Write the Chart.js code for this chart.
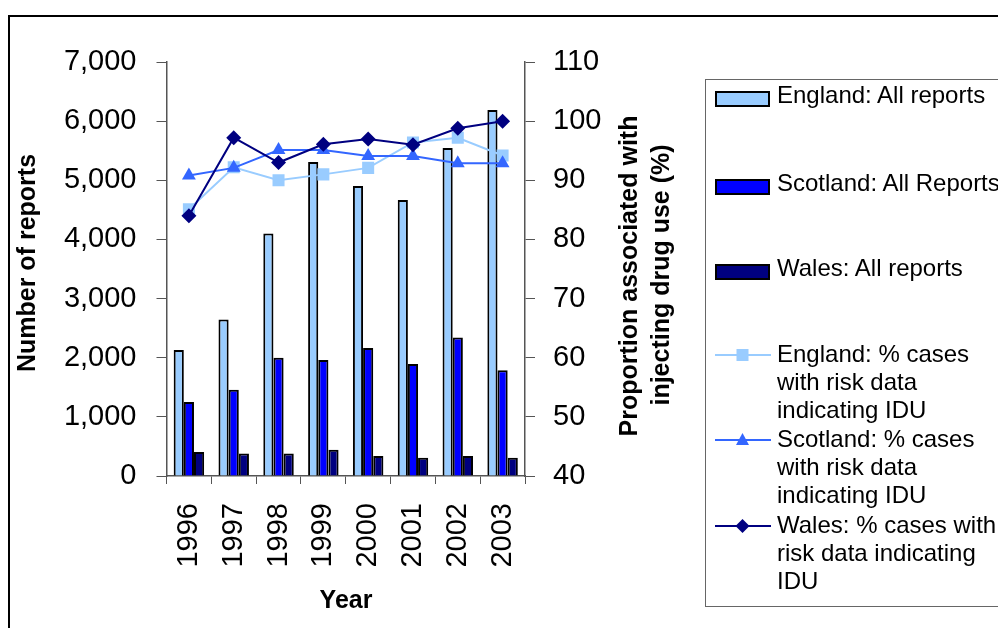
<!DOCTYPE html>
<html>
<head>
<meta charset="utf-8">
<script src="https://cdn.jsdelivr.net/npm/chart.js@4/dist/chart.umd.min.js"></script>
<style>
    html, body { margin: 0; padding: 0; background: #fff; overflow: hidden; }
    #wrap { position: relative; width: 998px; height: 628px; overflow: hidden; font-family: "Liberation Sans", Arial, sans-serif; }
    #chartBox { position: absolute; left: 0; top: 0; width: 998px; height: 628px; }
    #frame { position: absolute; left: 8px; top: 15px; width: 1200px; height: 800px; border: 2px solid #000; box-sizing: border-box; pointer-events: none; }
    #legend { position: absolute; left: 705px; top: 79px; width: 500px; height: 528px; border: 1px solid #666; box-sizing: border-box; }
    .sw { position: absolute; left: 9px; width: 55px; height: 16px; border: 2px solid #000; box-sizing: border-box; }
    .lbl { position: absolute; left: 71px; font-size: 24px; line-height: 28px; color: #000; white-space: nowrap; }
    .ln { position: absolute; left: 9px; }
</style>
</head>
<body>
<div id="wrap">
    <div id="chartBox"><canvas id="chart"></canvas></div>
    <div id="frame"></div>
    <div id="legend"></div>
</div>
<script>
// Data
const years = ['1996', '1997', '1998', '1999', '2000', '2001', '2002', '2003'];
const englandReports = [2130, 2645, 4100, 5310, 4905, 4665, 5545, 6190];
const scotlandReports = [1250, 1460, 2000, 1960, 2165, 1895, 2340, 1790];
const walesReports = [405, 380, 380, 445, 340, 310, 340, 310];
const englandIdu = [85.1, 92.2, 90, 91, 92.1, 96.4, 97.2, 94.2];
const scotlandIdu = [90.8, 92.1, 95.1, 95.1, 94.1, 94.1, 92.9, 92.9];
const walesIdu = [84, 97.2, 93, 96.1, 97, 96, 98.8, 100];

const reportTicks = [0, 1000, 2000, 3000, 4000, 5000, 6000, 7000];
const percentTicks = [40, 50, 60, 70, 80, 90, 100, 110];

const FONT = '"Liberation Sans", Arial, sans-serif';
const AXIS_GREY = '#555';

// Axis titles drawn by hand so the right title reads bottom-to-top like the original
const axisTitles = {
    id: 'axisTitles',
    afterDraw(chart) {
        const ctx = chart.ctx;
        ctx.save();
        ctx.fillStyle = '#000';
        ctx.font = 'bold 25px ' + FONT;
        ctx.textAlign = 'center';
        ctx.textBaseline = 'middle';

        ctx.save();
        ctx.translate(28, 263);
        ctx.rotate(-Math.PI / 2);
        ctx.fillText('Number of reports', 0, 0);
        ctx.restore();

        ctx.save();
        ctx.translate(630, 276);
        ctx.rotate(-Math.PI / 2);
        ctx.fillText('Proportion associated with', 0, 0);
        ctx.restore();

        ctx.save();
        ctx.translate(662, 275);
        ctx.rotate(-Math.PI / 2);
        ctx.fillText('injecting drug use (%)', 0, 0);
        ctx.restore();

        ctx.fillText('Year', 346, 601);
        ctx.restore();
    }
};

const ctx = document.getElementById('chart').getContext('2d');
new Chart(ctx, {
    data: {
        labels: years,
        datasets: [
            {
                type: 'line', label: 'England: % cases with risk data indicating IDU',
                data: englandIdu, yAxisID: 'y1', order: 3,
                borderColor: '#99CCFF', backgroundColor: '#99CCFF', borderWidth: 2,
                pointStyle: 'rect', pointRadius: 8.5, pointBorderWidth: 0
            },
            {
                type: 'line', label: 'Scotland: % cases with risk data indicating IDU',
                data: scotlandIdu, yAxisID: 'y1', order: 2,
                borderColor: '#3366FF', backgroundColor: '#3366FF', borderWidth: 2,
                pointStyle: 'triangle', pointRadius: 8, pointBorderWidth: 0
            },
            {
                type: 'line', label: 'Wales: % cases with risk data indicating IDU',
                data: walesIdu, yAxisID: 'y1', order: 1,
                borderColor: '#000080', backgroundColor: '#000080', borderWidth: 2,
                pointStyle: 'rectRot', pointRadius: 7.5, pointBorderWidth: 0
            },
            {
                type: 'bar', label: 'England: All reports', data: englandReports, yAxisID: 'y', order: 4,
                backgroundColor: '#99CCFF', borderColor: '#000', borderWidth: 2,
                categoryPercentage: 0.68, barPercentage: 1.0
            },
            {
                type: 'bar', label: 'Scotland: All Reports', data: scotlandReports, yAxisID: 'y', order: 5,
                backgroundColor: '#0000FF', borderColor: '#000', borderWidth: 2,
                categoryPercentage: 0.68, barPercentage: 1.0
            },
            {
                type: 'bar', label: 'Wales: All reports', data: walesReports, yAxisID: 'y', order: 6,
                backgroundColor: '#000080', borderColor: '#000', borderWidth: 2,
                categoryPercentage: 0.68, barPercentage: 1.0
            }
        ]
    },
    options: {
        responsive: true,
        maintainAspectRatio: false,
        animation: false,
        layout: { padding: { left: 0, top: 62, right: 373, bottom: 52 } },
        plugins: {
            legend: { display: false },
            tooltip: { enabled: false }
        },
        scales: {
            x: {
                offset: true,
                grid: { offset: true, drawOnChartArea: false, tickLength: 8, color: AXIS_GREY },
                border: { color: AXIS_GREY, width: 1.5 },
                ticks: {
                    color: '#000', font: { family: FONT, size: 29 },
                    maxRotation: 90, minRotation: 90, padding: 19, autoSkip: false
                },
                afterFit(scale) { scale.height = 100; }
            },
            y: {
                position: 'left',
                min: 0, max: 7000,
                afterBuildTicks(scale) { scale.ticks = reportTicks.map(v => ({ value: v })); },
                grid: { drawOnChartArea: false, tickLength: 10, color: AXIS_GREY },
                border: { color: AXIS_GREY, width: 1.5 },
                ticks: {
                    color: '#000', font: { family: FONT, size: 29 }, padding: 20,
                    callback: v => v.toLocaleString('en-US')
                },
                afterFit(scale) { scale.width = 166.5; }
            },
            y1: {
                position: 'right',
                min: 40, max: 110,
                afterBuildTicks(scale) { scale.ticks = percentTicks.map(v => ({ value: v })); },
                grid: { drawOnChartArea: false, tickLength: 10, color: AXIS_GREY },
                border: { color: AXIS_GREY, width: 1.5 },
                ticks: { color: '#000', font: { family: FONT, size: 29 }, padding: 18 },
                afterFit(scale) { scale.width = 100; }
            }
        }
    },
    plugins: [axisTitles]
});

// Legend built as HTML to keep the wrapped labels of the original
function markerSvg(shape, color) {
    let mark = '';
    if (shape === 'rect') mark = `<rect x="21.5" y="4" width="12" height="12" fill="${color}"/>`;
    if (shape === 'triangle') mark = `<polygon points="27.5,3 34,15 21,15" fill="${color}"/>`;
    if (shape === 'diamond') mark = `<polygon points="27.5,3 34.5,10 27.5,17 20.5,10" fill="${color}"/>`;
    return `<svg width="56" height="20" viewBox="0 0 56 20"><line x1="0" y1="10" x2="56" y2="10" stroke="${color}" stroke-width="2"/>${mark}</svg>`;
}

const legendItems = [
    { kind: 'bar', color: '#99CCFF', y: 95, text: 'England: All reports' },
    { kind: 'bar', color: '#0000FF', y: 183, text: 'Scotland: All Reports' },
    { kind: 'bar', color: '#000080', y: 268, text: 'Wales: All reports' },
    { kind: 'rect', color: '#99CCFF', y: 354, text: 'England: % cases<br>with risk data<br>indicating IDU' },
    { kind: 'triangle', color: '#3366FF', y: 439, text: 'Scotland: % cases<br>with risk data<br>indicating IDU' },
    { kind: 'diamond', color: '#000080', y: 525, text: 'Wales: % cases with<br>risk data indicating<br>IDU' }
];

const legend = document.getElementById('legend');
legendItems.forEach(item => {
    const top = item.y - 79;
    if (item.kind === 'bar') {
        const sw = document.createElement('div');
        sw.className = 'sw';
        sw.style.top = (top - 5) + 'px';
        sw.style.background = item.color;
        legend.appendChild(sw);
    } else {
        const ln = document.createElement('div');
        ln.className = 'ln';
        ln.style.top = (top - 10) + 'px';
        ln.innerHTML = markerSvg(item.kind, item.color);
        legend.appendChild(ln);
    }
    const lbl = document.createElement('div');
    lbl.className = 'lbl';
    lbl.style.top = (top - 15) + 'px';
    lbl.innerHTML = item.text;
    legend.appendChild(lbl);
});
</script>
</body>
</html>
